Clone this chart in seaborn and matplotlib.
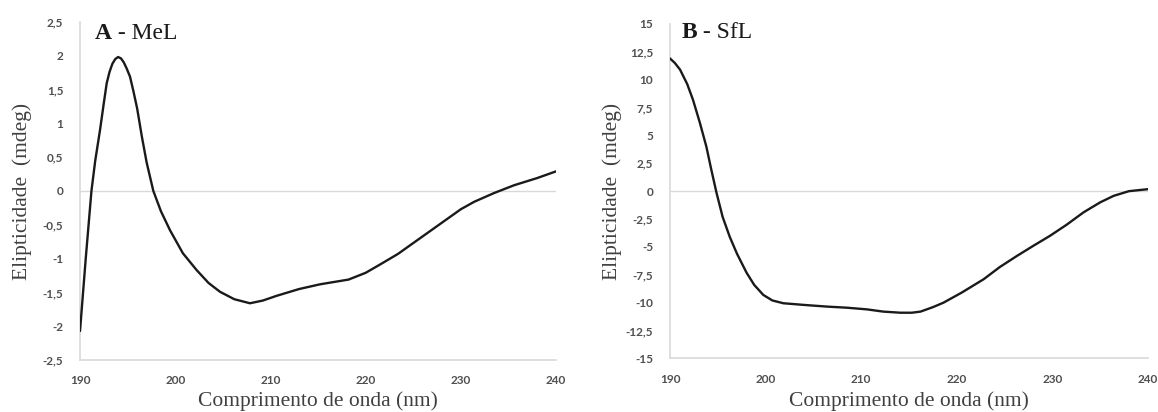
import numpy as np
import pandas as pd
import matplotlib
matplotlib.use("Agg")
import matplotlib.pyplot as plt
import seaborn as sns

# Panel A - MeL (wavelength nm, ellipticity mdeg)
wl_mel = [190.0, 190.6, 191.2, 191.6, 192.1, 192.5, 192.8, 193.1, 193.4, 193.7,
          194.0, 194.3, 194.6, 194.9, 195.25, 195.6, 196.0, 196.5, 197.0, 197.7,
          198.5, 199.45, 200.8, 202.25, 203.5, 204.7, 206.2, 207.85, 209.2, 210.65,
          213.0, 215.2, 218.2, 220.0, 221.6, 223.4, 225.1, 226.9, 228.6, 230.0,
          231.4, 233.5, 235.6, 238.0, 240.0]
cd_mel = [-2.07, -1.0, 0.0, 0.45, 0.90, 1.30, 1.59, 1.76, 1.88, 1.95,
          1.98, 1.96, 1.90, 1.81, 1.69, 1.48, 1.22, 0.80, 0.42, 0.0,
          -0.30, -0.58, -0.92, -1.17, -1.36, -1.49, -1.60, -1.66, -1.62, -1.55,
          -1.45, -1.38, -1.31, -1.21, -1.08, -0.93, -0.76, -0.58, -0.41, -0.27,
          -0.16, -0.03, 0.085, 0.19, 0.29]

# Panel B - SfL
wl_sfl = [190.0, 190.5, 191.05, 191.8, 192.4, 193.1, 193.8, 194.3, 194.85, 195.5,
          196.25, 197.0, 198.0, 198.8, 199.75, 200.7, 201.85, 204.0, 206.4, 208.5,
          210.6, 212.3, 214.1, 215.3, 216.2, 217.5, 218.6, 220.5, 222.8, 224.5,
          226.3, 228.0, 229.75, 231.5, 233.25, 235.0, 236.4, 238.0, 240.0]
cd_sfl = [11.9, 11.5, 10.9, 9.6, 8.2, 6.2, 4.0, 2.0, -0.1, -2.3,
          -4.1, -5.6, -7.3, -8.4, -9.3, -9.8, -10.05, -10.2, -10.35, -10.45,
          -10.6, -10.8, -10.9, -10.9, -10.8, -10.4, -10.0, -9.1, -7.9, -6.8,
          -5.8, -4.9, -4.0, -3.0, -1.9, -1.0, -0.42, 0.0, 0.18]

x_ticks = [190, 200, 210, 220, 230, 240]
y_ticks_a = [2.5, 2, 1.5, 1, 0.5, 0, -0.5, -1, -1.5, -2, -2.5]
y_labels_a = ["2,5", "2", "1,5", "1", "0,5", "0", "-0,5", "-1", "-1,5", "-2", "-2,5"]
y_ticks_b = [15, 12.5, 10, 7.5, 5, 2.5, 0, -2.5, -5, -7.5, -10, -12.5, -15]
y_labels_b = ["15", "12,5", "10", "7,5", "5", "2,5", "0", "-2,5", "-5", "-7,5", "-10", "-12,5", "-15"]

sns.set_style("white")
plt.rcParams['font.family'] = ['Liberation Serif', 'DejaVu Serif']

fig = plt.figure(figsize=(11.58, 4.12), dpi=100)
ax_a = fig.add_axes([0.0691, 0.126, 0.4111, 0.821])
ax_b = fig.add_axes([0.5786, 0.130, 0.4128, 0.812])

grey = "#d9d9d9"
tick_font = dict(family="Lato", size=8.5, weight="bold", color="#505050")

panels = [
    (ax_a, wl_mel, cd_mel, y_ticks_a, y_labels_a, (-2.5, 2.5), "A", " - MeL", 0.031, 0.95, -0.092),
    (ax_b, wl_sfl, cd_sfl, y_ticks_b, y_labels_b, (-15, 15), "B", " - SfL", 0.0245, 0.957, -0.097),
]

for ax, xs, ys, yt, yl, ylim, letter, name, tx, ty, xl_y in panels:
    df = pd.DataFrame({"wl": xs, "cd": ys})
    ax.axhline(0, color=grey, lw=1.0, zorder=1)
    sns.lineplot(data=df, x="wl", y="cd", ax=ax, color="#1a1a1a", lw=1.7, zorder=3)
    ax.set_xlim(190, 240)
    ax.set_ylim(*ylim)
    ax.set_xticks(x_ticks)
    ax.set_xticklabels([str(t) for t in x_ticks], fontdict=tick_font)
    ax.set_yticks(yt)
    ax.set_yticklabels(yl, fontdict=tick_font)
    ax.tick_params(axis="x", length=0, pad=11)
    ax.tick_params(axis="y", length=0, pad=12)
    for side in ["top", "right"]:
        ax.spines[side].set_visible(False)
    for side in ["left", "bottom"]:
        ax.spines[side].set_color(grey)
        ax.spines[side].set_linewidth(1.2)
    ax.set_xlabel("Comprimento de onda (nm)", fontsize=15.5, color="#404040")
    ax.set_ylabel("Elipticidade  (mdeg)", fontsize=15.5, color="#404040")
    ax.xaxis.set_label_coords(0.5, xl_y)
    ax.yaxis.set_label_coords(-0.10, 0.5)
    t = ax.text(tx, ty, letter, transform=ax.transAxes, fontsize=17, weight="bold",
                va="baseline", ha="left", color="#1a1a1a")
    ax.annotate(name, xy=(1, 0), xycoords=t, fontsize=17, va="bottom", ha="left",
                color="#1a1a1a")

fig.savefig("out.png", dpi=100, facecolor="white")
